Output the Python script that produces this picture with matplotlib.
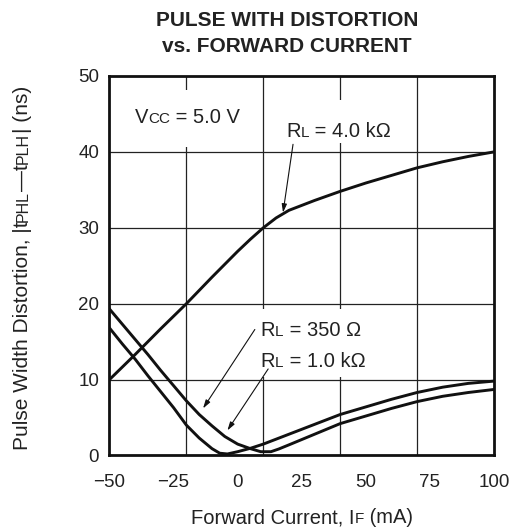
import matplotlib
matplotlib.use('Agg')
import matplotlib.pyplot as plt
from matplotlib.transforms import offset_copy
from matplotlib.patches import Rectangle

# ---------------- data ----------------
x_ticks = [-50, -25, 0, 25, 50, 75, 100]
x_tick_labels = ['\u221250', '\u221225', '0', '25', '50', '75', '100']
y_ticks = [0, 10, 20, 30, 40, 50]
v_grid = [-20, 10, 40, 70]
h_grid = [10, 20, 30, 40]

i_4k = [-50, -40, -30, -20, -10, 0, 5, 10, 15, 20, 30, 40, 50, 60, 70, 80, 90, 100]
t_4k = [10, 13.3, 16.7, 20, 23.5, 26.9, 28.5, 30, 31.3, 32.3, 33.6, 34.8, 35.9, 36.9, 37.9, 38.7, 39.4, 40]

i_350 = [-50, -45, -40, -35, -30, -25, -20, -15, -10, -5, 0, 5, 9, 13, 16, 20, 25, 30, 40, 50, 60, 70, 80, 90, 100]
t_350 = [19.3, 17.3, 15.3, 13.3, 11.2, 9.2, 7.2, 5.4, 3.9, 2.5, 1.5, 0.9, 0.5, 0.5, 0.85, 1.4, 2.1, 2.8, 4.2, 5.2, 6.2, 7.1, 7.8, 8.3, 8.7]

i_1k = [-50, -45, -40, -35, -30, -25, -20, -15, -10, -7, -4, 0, 5, 10, 20, 30, 40, 50, 60, 70, 80, 90, 100]
t_1k = [16.8, 14.7, 12.7, 10.5, 8.4, 6.3, 4.0, 2.3, 0.9, 0.3, 0.2, 0.5, 0.95, 1.5, 2.8, 4.1, 5.4, 6.4, 7.4, 8.3, 9.0, 9.5, 9.8]

# ---------------- style ----------------
plt.rcParams['font.family'] = ['Liberation Sans', 'DejaVu Sans']
BIG = 14.5
SMALL = 11
TICK = 13.5
TXT = '#222222'

fig = plt.figure(figsize=(5.15, 5.27), dpi=100)
ax = fig.add_axes([0.2126, 0.1357, 0.9592 - 0.2126, 0.8558 - 0.1357])
renderer = fig.canvas.get_renderer()


def text_width(s, size, weight='normal'):
    t = fig.text(0, 0, '|' + s + '|', fontsize=size, weight=weight)
    w1 = t.get_window_extent(renderer).width
    t.set_text('||')
    w0 = t.get_window_extent(renderer).width
    t.remove()
    return w1 - w0


def rich_text(x, y, pieces, transform, rotation=0, ha='left', zorder=5):
    widths = [text_width(s, sz) for s, sz in pieces]
    total = sum(widths)
    pos = {'left': 0, 'center': -total / 2, 'right': -total}[ha]
    for (s, sz), w in zip(pieces, widths):
        if rotation == 90:
            tr = offset_copy(transform, fig=fig, x=0, y=pos, units='dots')
        else:
            tr = offset_copy(transform, fig=fig, x=pos, y=0, units='dots')
        fig.text(x, y, s, transform=tr, fontsize=sz, ha='left', va='baseline',
                 rotation=rotation, rotation_mode='anchor', color=TXT, zorder=zorder)
        pos += w


# axes setup
ax.set_xlim(-50, 100)
ax.set_ylim(0, 50)
ax.set_xticks(x_ticks)
ax.set_xticklabels(x_tick_labels)
ax.set_yticks(y_ticks)
ax.tick_params(length=0, labelsize=TICK, labelcolor=TXT)
ax.tick_params(axis='x', pad=13)
ax.tick_params(axis='y', pad=7.5)
for s in ax.spines.values():
    s.set_linewidth(2.0)
    s.set_color('#111111')

for gx in v_grid:
    ax.axvline(gx, color='#222222', lw=0.9, zorder=1)
for gy in h_grid:
    ax.axhline(gy, color='#222222', lw=0.9, zorder=1)

# white boxes behind labels (mask gridlines)
for (x0, y0, w, h) in [(-46, 40.6, 52, 7.6), (18, 41.2, 48, 5.6), (6, 10.3, 47, 9.0)]:
    ax.add_patch(Rectangle((x0, y0), w, h, facecolor='white', edgecolor='none', zorder=2))

# curves
for xs, ys in [(i_4k, t_4k), (i_350, t_350), (i_1k, t_1k)]:
    ax.plot(xs, ys, color='#111111', lw=2.1, zorder=3, solid_joinstyle='round')

# arrows
arrow_kw = dict(arrowstyle='-|>,head_length=0.5,head_width=0.15', color='#111111', lw=0.8,
                shrinkA=0, shrinkB=0)
ax.annotate('', xy=(17.7, 32.0), xytext=(21.6, 41.0), arrowprops=arrow_kw, zorder=4)
ax.annotate('', xy=(-13.5, 6.2), xytext=(6.7, 16.6), arrowprops=arrow_kw, zorder=4)
ax.annotate('', xy=(-4.0, 3.3), xytext=(11.9, 11.4), arrowprops=arrow_kw, zorder=4)

# in-plot labels
rich_text(-40.1, 43.8, [('V', BIG), ('CC', SMALL), (' = 5.0 V', BIG)], ax.transData)
rich_text(19.0, 41.9, [('R', BIG), ('L', SMALL), (' = 4.0 k\u03a9', BIG)], ax.transData)
rich_text(9.0, 15.75, [('R', BIG), ('L', SMALL), (' = 350 \u03a9', BIG)], ax.transData)
rich_text(9.0, 11.7, [('R', BIG), ('L', SMALL), (' = 1.0 k\u03a9', BIG)], ax.transData)

# axis labels
rich_text(302 / 515, 4 / 527, [('Forward Current, I', BIG), ('F', SMALL), (' (mA)', BIG)],
          fig.transFigure, ha='center')
rich_text(28 / 515, 1 - 268 / 527,
          [('Pulse Width Distortion, |t', 15), ('PHL', 11.5), ('\u2014t', 15), ('PLH', 11.5), ('| (ns)', 15)],
          fig.transFigure, rotation=90, ha='center')

# title
fig.text(287 / 515, 1 - 26.5 / 527, 'PULSE WITH DISTORTION', fontsize=15, weight='bold',
         ha='center', va='baseline', color=TXT)
fig.text(287 / 515, 1 - 52.5 / 527, 'vs. FORWARD CURRENT', fontsize=15, weight='bold',
         ha='center', va='baseline', color=TXT)

fig.savefig('out.png', dpi=100, facecolor='white')
